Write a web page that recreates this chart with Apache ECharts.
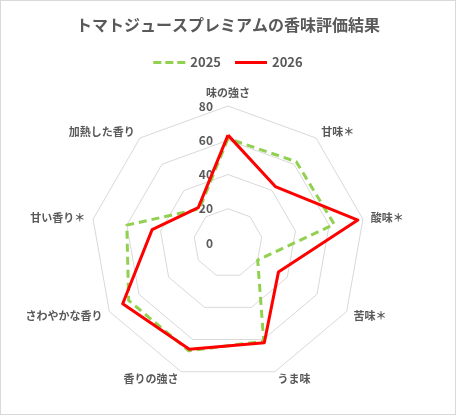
<!DOCTYPE html>
<html>
<head>
<meta charset="utf-8">
<script src="https://cdn.jsdelivr.net/npm/echarts@6/dist/echarts.min.js"></script>
<style>
html,body{margin:0;padding:0;background:#fff;}
#wrap{position:relative;width:456px;height:415px;}
#chart{position:absolute;left:0;top:0;width:456px;height:415px;}
#frame{position:absolute;left:0;top:0;width:456px;height:415px;box-sizing:border-box;border:1px solid #d9d9d9;pointer-events:none;}
</style>
</head>
<body>
<div id="wrap"><div id="chart"></div><div id="frame"></div></div>
<script>
// Data (clockwise from top)
var titleText = 'トマトジュースプレミアムの香味評価結果';
var indicators = ['味の強さ', '甘味＊', '酸味＊', '苦味＊', 'うま味', '香りの強さ', 'さわやかな香り', '甘い香り＊', '加熱した香り'];
var seriesNames = ['2025', '2026'];
var values2025 = [61, 62, 63, 20, 61, 67, 67, 60, 26];
var values2026 = [63, 43, 77, 34, 62, 66, 71, 45, 27];
var tickLabels = ['0', '20', '40', '60', '80'];
var axisMax = 80;

// ECharts places radar indicators counter-clockwise; reorder so they run clockwise
function toCCW(arr) {
  var out = [arr[0]];
  for (var i = arr.length - 1; i >= 1; i--) out.push(arr[i]);
  return out;
}

var font = '"Noto Sans CJK JP", "Noto Sans", sans-serif';
var textColor = '#595959';

var ind = toCCW(indicators).map(function (name, i) {
  var o = { name: name, max: axisMax, min: 0 };
  if (i === 0) {
    o.axisLabel = {
      show: true,
      margin: 15,
      color: textColor,
      fontSize: 12,
      fontWeight: 'bold',
      fontFamily: font,
      formatter: function (v) { return tickLabels[Math.round(v / (axisMax / (tickLabels.length - 1)))]; }
    };
  }
  return o;
});

var chart = echarts.init(document.getElementById('chart'), null, { renderer: 'canvas' });
chart.setOption({
  animation: false,
  backgroundColor: '#fff',
  title: {
    text: titleText,
    left: 'center',
    top: 12,
    textStyle: { color: textColor, fontSize: 16, fontWeight: 'bold', fontFamily: font }
  },
  legend: {
    top: 51,
    left: 'center',
    itemWidth: 32,
    itemHeight: 3,
    itemGap: 14,
    textStyle: { color: textColor, fontSize: 13, fontWeight: 'bold', fontFamily: font },
    data: [
      { name: seriesNames[0], icon: 'path://M0,0h8v3h-8z M12,0h8v3h-8z M24,0h8v3h-8z' },
      { name: seriesNames[1], icon: 'path://M0,0h32v3h-32z' }
    ]
  },
  radar: {
    center: [228, 243],
    radius: 137,
    startAngle: 90,
    splitNumber: 4,
    shape: 'polygon',
    nameGap: 8,
    axisName: { color: textColor, fontSize: 11, fontWeight: 'bold', fontFamily: font },
    axisLine: { show: false },
    axisTick: { show: false },
    axisLabel: { show: false },
    splitArea: { show: false },
    splitLine: { lineStyle: { color: '#d9d9d9', width: 1 } },
    indicator: ind
  },
  series: [{
    type: 'radar',
    symbol: 'none',
    data: [
      {
        name: seriesNames[0],
        value: toCCW(values2025),
        itemStyle: { color: '#92d050' },
        lineStyle: { color: '#92d050', width: 3, type: [8, 5] }
      },
      {
        name: seriesNames[1],
        value: toCCW(values2026),
        itemStyle: { color: '#ff0000' },
        lineStyle: { color: '#ff0000', width: 3, type: 'solid' }
      }
    ]
  }]
});
</script>
</body>
</html>
